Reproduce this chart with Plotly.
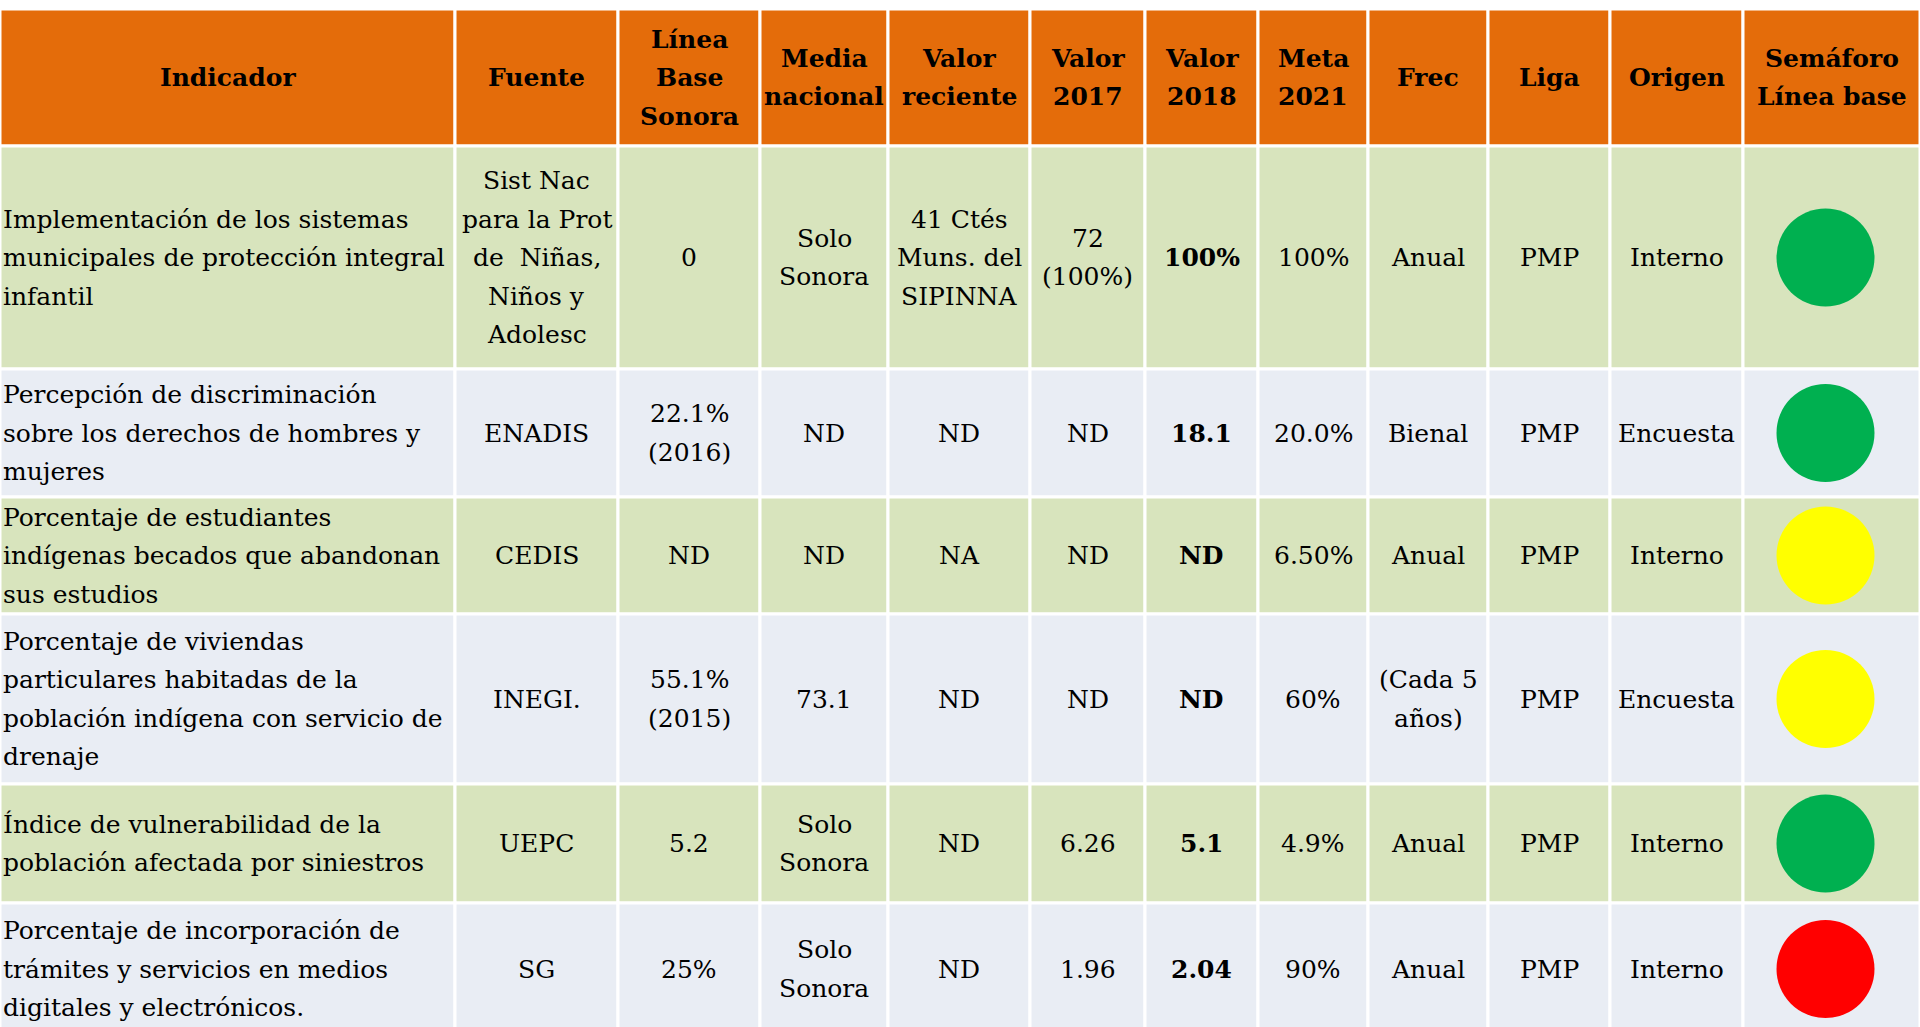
import plotly.graph_objects as go

# column headers and cell contents
headers = ["Indicador", "Fuente", "Línea<br>Base<br>Sonora", "Media<br>nacional", "Valor<br>reciente",
           "Valor<br>2017", "Valor<br>2018", "Meta<br>2021", "Frec", "Liga", "Origen", "Semáforo<br>Línea base"]

indicador = [
    "Implementación de los sistemas<br>municipales de protección integral<br>infantil",
    "Percepción de discriminación<br>sobre los derechos de hombres y<br>mujeres",
    "Porcentaje de estudiantes<br>indígenas becados que abandonan<br>sus estudios",
    "Porcentaje de viviendas<br>particulares habitadas de la<br>población indígena con servicio de<br>drenaje",
    "Índice de vulnerabilidad de la<br>población afectada por siniestros",
    "Porcentaje de incorporación de<br>trámites y servicios en medios<br>digitales y electrónicos.",
]
fuente = ["Sist Nac<br>para la Prot<br>de  Niñas,<br>Niños y<br>Adolesc", "ENADIS", "CEDIS", "INEGI.", "UEPC", "SG"]
linea_base = ["0", "22.1%<br>(2016)", "ND", "55.1%<br>(2015)", "5.2", "25%"]
media_nacional = ["Solo<br>Sonora", "ND", "ND", "73.1", "Solo<br>Sonora", "Solo<br>Sonora"]
valor_reciente = ["41 Ctés<br>Muns. del<br>SIPINNA", "ND", "NA", "ND", "ND", "ND"]
valor_2017 = ["72<br>(100%)", "ND", "ND", "ND", "6.26", "1.96"]
valor_2018 = ["100%", "18.1", "ND", "ND", "5.1", "2.04"]
meta_2021 = ["100%", "20.0%", "6.50%", "60%", "4.9%", "90%"]
frec = ["Anual", "Bienal", "Anual", "(Cada 5<br>años)", "Anual", "Anual"]
liga = ["PMP", "PMP", "PMP", "PMP", "PMP", "PMP"]
origen = ["Interno", "Encuesta", "Interno", "Encuesta", "Interno", "Interno"]
semaforo = ["verde", "verde", "amarillo", "amarillo", "verde", "rojo"]

# layout of the grid (pixels)
col_edges = [0, 455, 618, 760, 888, 1030, 1145, 1258, 1368, 1488, 1610, 1743, 1920]
row_edges = [9, 146, 369, 497, 614, 784, 903, 1035]
LINE_H = 38.5
FONT_SIZE = 25

HEADER_BG = "#E46C0A"
ROW_BG = ["#D8E4BD", "#E9EDF4"]
SEM_COLORS = {"verde": "#00B050", "amarillo": "#FFFF00", "rojo": "#FF0000"}
FONT = "DejaVu Serif"

columns = [indicador, fuente, linea_base, media_nacional, valor_reciente,
           valor_2017, valor_2018, meta_2021, frec, liga, origen]

fig = go.Figure()
shapes = []
annotations = []


def add_text(txt, x, yc, anchor, bold=False):
    # one annotation per line so the line spacing matches the slide
    lines = txt.split("<br>")
    n = len(lines)
    for i, line in enumerate(lines):
        annotations.append(dict(
            x=x, y=yc + (i - (n - 1) / 2) * LINE_H,
            text="<b>" + line + "</b>" if bold else line,
            showarrow=False, xanchor=anchor, yanchor="middle",
            font=dict(size=FONT_SIZE, color="black"),
        ))


# header
for c, h in enumerate(headers):
    x0, x1 = col_edges[c], col_edges[c + 1]
    y0, y1 = row_edges[0], row_edges[1]
    shapes.append(dict(type="rect", x0=x0, x1=x1, y0=y0, y1=y1, fillcolor=HEADER_BG,
                       line=dict(color="white", width=3), layer="below"))
    add_text(h, (x0 + x1) / 2, (y0 + y1) / 2, "center", bold=True)

# body
for r in range(len(indicador)):
    y0, y1 = row_edges[r + 1], row_edges[r + 2]
    for c in range(len(headers)):
        x0, x1 = col_edges[c], col_edges[c + 1]
        shapes.append(dict(type="rect", x0=x0, x1=x1, y0=y0, y1=y1, fillcolor=ROW_BG[r % 2],
                           line=dict(color="white", width=3), layer="below"))
    for c, col in enumerate(columns):
        x0, x1 = col_edges[c], col_edges[c + 1]
        if c == 0:
            add_text(col[r], x0 + 1, (y0 + y1) / 2, "left")
        else:
            add_text(col[r], (x0 + x1) / 2, (y0 + y1) / 2, "center", bold=(c == 6))

# semaforo circles
sem_x = [(col_edges[11] + col_edges[12]) / 2 - 6] * len(semaforo)
sem_y = [(row_edges[r + 1] + row_edges[r + 2]) / 2 for r in range(len(semaforo))]
fig.add_trace(go.Scatter(
    x=sem_x, y=sem_y, mode="markers",
    marker=dict(size=98, color=[SEM_COLORS[s] for s in semaforo], line=dict(width=0)),
    hoverinfo="skip", showlegend=False,
))

fig.update_layout(
    width=1920, height=1027,
    margin=dict(l=0, r=0, t=0, b=0),
    font=dict(family=FONT),
    paper_bgcolor="white", plot_bgcolor="white",
    shapes=shapes, annotations=annotations,
    xaxis=dict(range=[0, 1920], visible=False, fixedrange=True),
    yaxis=dict(range=[1027, 0], visible=False, fixedrange=True),
)

fig.write_html("out.html", config={"displayModeBar": False},
               post_script="document.body.style.margin='0';document.body.style.overflow='hidden';")
